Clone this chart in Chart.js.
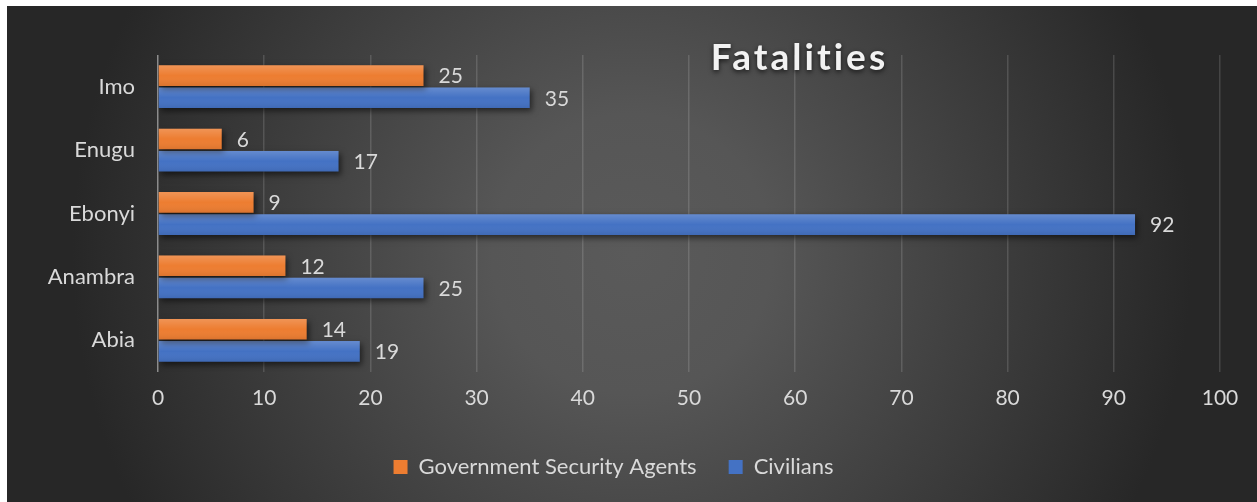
<!DOCTYPE html>
<html>
<head>
<meta charset="utf-8">
<script src="https://cdn.jsdelivr.net/npm/chart.js@4/dist/chart.umd.min.js"></script>
<style>
  html, body { margin: 0; padding: 0; background: #ffffff; }
  #caja {
    position: absolute; left: 7px; top: 6px; width: 1250px; height: 496px;
    background: radial-gradient(circle 560px at 50% 50%, #5a5a5a 0%, #565656 25%, #272727 100%);
  }
</style>
</head>
<body>
<div id="caja"><canvas id="grafica"></canvas></div>
<script>
// datos
const estados = ['Imo', 'Enugu', 'Ebonyi', 'Anambra', 'Abia'];
const agentes = [25, 6, 9, 12, 14];
const civiles = [35, 17, 92, 25, 19];
const marcasX = [0, 10, 20, 30, 40, 50, 60, 70, 80, 90, 100];

const fuente = 'Lato, "Open Sans", sans-serif';
const gris = '#d9d9d9';

// sombra debajo de las barras
const sombraBarras = {
    id: 'sombraBarras',
    beforeDatasetsDraw(chart) {
        const ctx = chart.ctx;
        ctx.save();
        ctx.shadowColor = 'rgba(0,0,0,0.55)';
        ctx.shadowBlur = 6;
        ctx.shadowOffsetX = 2;
        ctx.shadowOffsetY = 3;
    },
    afterDatasetsDraw(chart) {
        const ctx = chart.ctx;
        ctx.restore();

        // brillo degradado encima de cada barra + etiquetas
        chart.data.datasets.forEach((ds, i) => {
            const meta = chart.getDatasetMeta(i);
            meta.data.forEach((bar, j) => {
                const top = bar.y - bar.height / 2;
                const g = ctx.createLinearGradient(0, top, 0, top + bar.height);
                g.addColorStop(0, 'rgba(255,255,255,0.18)');
                g.addColorStop(0.5, 'rgba(255,255,255,0)');
                g.addColorStop(1, 'rgba(0,0,0,0.08)');
                ctx.fillStyle = g;
                ctx.fillRect(bar.base, top, bar.x - bar.base, bar.height);

                ctx.save();
                ctx.font = '21px ' + fuente;
                ctx.fillStyle = gris;
                ctx.textAlign = 'left';
                ctx.textBaseline = 'middle';
                ctx.fillText(ds.data[j], bar.x + 15, bar.y + 1);
                ctx.restore();
            });
        });
    }
};

// titulo desplazado a la derecha, como en el original
const titulo = {
    id: 'titulo',
    afterDraw(chart) {
        const ctx = chart.ctx;
        ctx.save();
        ctx.font = 'bold 37px ' + fuente;
        ctx.letterSpacing = '3px';
        ctx.fillStyle = '#f2f2f2';
        ctx.textAlign = 'center';
        ctx.textBaseline = 'alphabetic';
        ctx.shadowColor = 'rgba(0,0,0,0.7)';
        ctx.shadowBlur = 5;
        ctx.shadowOffsetY = 2;
        ctx.fillText('Fatalities', chart.width * 0.634, 64);
        ctx.restore();
    }
};

const ctx = document.getElementById('grafica').getContext('2d');

new Chart(ctx, {
    type: 'bar',
    data: {
        labels: estados,
        datasets: [
            {
                label: 'Government Security Agents',
                data: agentes,
                backgroundColor: '#ed7d31',
                categoryPercentage: 0.7,
                barPercentage: 0.93
            },
            {
                label: 'Civilians',
                data: civiles,
                backgroundColor: '#4472c4',
                categoryPercentage: 0.7,
                barPercentage: 0.93
            }
        ]
    },
    plugins: [sombraBarras, titulo],
    options: {
        indexAxis: 'y',
        animation: false,
        responsive: true,
        maintainAspectRatio: false,
        layout: { padding: { top: 49, right: 37, bottom: 14, left: 0 } },
        scales: {
            x: {
                min: 0,
                max: 100,
                afterBuildTicks(scale) {
                    scale.ticks = marcasX.map(v => ({ value: v }));
                },
                afterFit(scale) { scale.height = 52; },
                grid: {
                    drawTicks: false,
                    lineWidth: 1.5,
                    color: c => c.index === 0 ? '#8c8c8c' : 'rgba(255,255,255,0.14)'
                },
                border: { display: false },
                ticks: {
                    color: gris,
                    padding: 14,
                    font: { family: fuente, size: 21 }
                }
            },
            y: {
                afterFit(scale) { scale.width = 151; },
                grid: { display: false },
                border: { display: false },
                ticks: {
                    color: gris,
                    padding: 15,
                    font: { family: fuente, size: 22 }
                }
            }
        },
        plugins: {
            title: { display: false },
            tooltip: { enabled: false },
            legend: {
                position: 'bottom',
                labels: {
                    color: gris,
                    boxWidth: 14,
                    boxHeight: 14,
                    padding: 32,
                    font: { family: fuente, size: 22 }
                }
            }
        }
    }
});
</script>
</body>
</html>
